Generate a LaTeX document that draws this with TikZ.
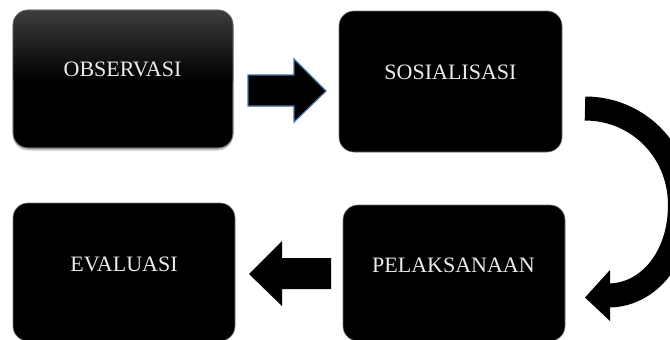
\documentclass[tikz,border=0pt]{standalone}
\usepackage{fontspec}
\setmainfont{Liberation Serif}
\usetikzlibrary{shadows}
\definecolor{arrowedge}{HTML}{41719C}
\tikzset{
  box/.style={draw=black!55, line width=0.6pt, fill=black, rounded corners=15pt, inner sep=0pt},
  boxtext/.style={text=white!92!black, font=\fontsize{22}{26}\selectfont, text height=14.6pt, text depth=0pt, inner sep=0pt},
  blockarrow/.style={fill=black},
}
\begin{document}
\begin{tikzpicture}[x=1pt, y=-1pt]
\useasboundingbox (0,0) rectangle (670,340);
\clip (0,0) rectangle (670,340);
% boxes
\node[box, minimum width=220pt, minimum height=138pt,
  drop shadow={shadow xshift=0pt, shadow yshift=-2.5pt, opacity=0.45}] (obs) at (123,79) {};
\begin{scope}
  \clip[rounded corners=15pt] (13,10) rectangle (233,148);
  \shade[top color=black!76, bottom color=black] (13,10) rectangle (233,80);
\end{scope}
\draw[draw=black!55, line width=0.6pt, rounded corners=15pt] (13,10) rectangle (233,148);
\node[box, minimum width=223pt, minimum height=141pt] (sos) at (450.5,81.5) {};
\node[box, minimum width=222pt, minimum height=138pt] (eva) at (124,272) {};
\node[box, minimum width=222pt, minimum height=136pt] (pel) at (454,273) {};
% texts
\node[boxtext] (obs-t) at (122.5,69.5) {OBSERVASI};
\node[boxtext] (sos-t) at (450.5,72.5) {SOSIALISASI};
\node[boxtext] (eva-t) at (124,264.5) {EVALUASI};
\node[boxtext] (pel-t) at (453.5,265.5) {PELAKSANAAN};
% arrow 1 (right)
\draw[blockarrow, draw=arrowedge, line width=1.2pt, line join=miter]
  (248,75) -- (294,75) -- (294,59) -- (326,91) -- (294,122) -- (294,106) -- (248,106) -- cycle;
% arrow 2 (left)
\fill[blockarrow]
  (331,258) -- (282,258) -- (282,241) -- (249,274) -- (282,306) -- (282,289) -- (331,289) -- cycle;
% curved arrow
\draw[line width=24pt, line cap=butt]
  (585,108.5) .. controls (638,108.5) and (680,151) .. (680,205)
  .. controls (680,258) and (648,295) .. (609,295.5);
\fill (585,297.5) -- (610,270) -- (610,321) -- cycle;
\end{tikzpicture}
\end{document}
